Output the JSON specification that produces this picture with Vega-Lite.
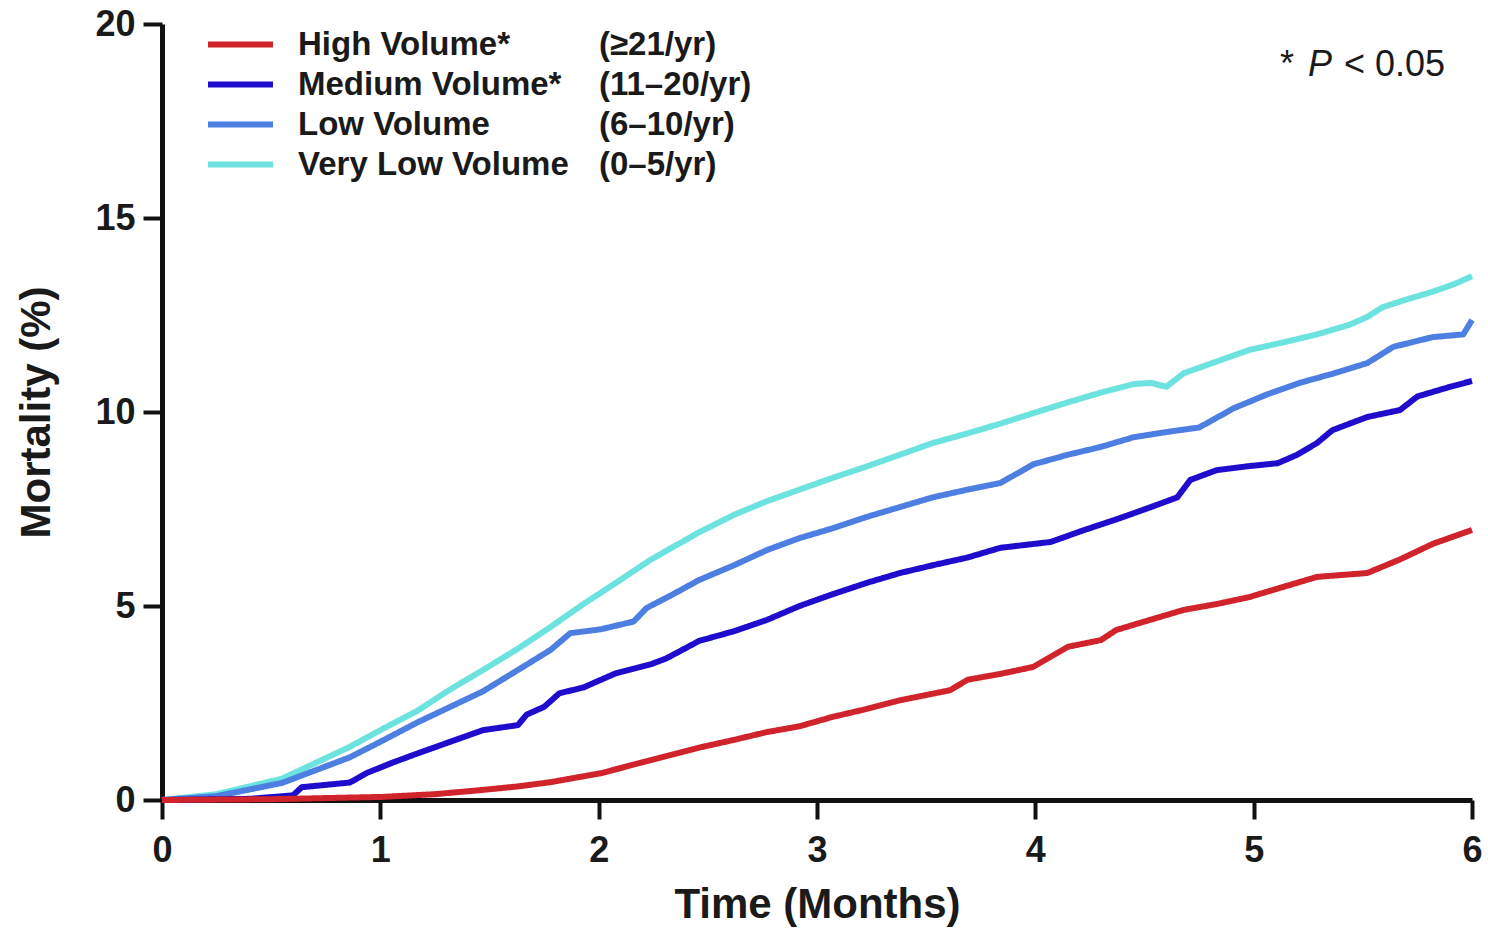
{
  "$schema": "https://vega.github.io/schema/vega-lite/v6.json",
  "autosize": "none",
  "width": 1310,
  "height": 776,
  "padding": {"left": 162, "top": 24, "right": 16, "bottom": 129},
  "background": "white",
  "config": {
    "view": {"stroke": null},
    "font": "Liberation Sans",
    "axis": {
      "grid": false,
      "domainColor": "#111",
      "domainWidth": 5,
      "tickColor": "#111",
      "tickWidth": 4,
      "tickSize": 19,
      "labelFont": "Liberation Sans",
      "labelFontWeight": "bold",
      "labelFontSize": 36,
      "labelColor": "#1a1a1a",
      "titleFont": "Liberation Sans",
      "titleFontWeight": "bold",
      "titleFontSize": 42,
      "titleColor": "#1a1a1a"
    }
  },
  "datasets": {
    "groups": [
      {"g": "High Volume*", "r": "(≥21/yr)"},
      {"g": "Medium Volume*", "r": "(11–20/yr)"},
      {"g": "Low Volume", "r": "(6–10/yr)"},
      {"g": "Very Low Volume", "r": "(0–5/yr)"}
    ],
    "curves": [
      {"g": "Very Low Volume", "t": 0, "m": 0},
      {"g": "Very Low Volume", "t": 0.25, "m": 0.15},
      {"g": "Very Low Volume", "t": 0.55, "m": 0.55},
      {"g": "Very Low Volume", "t": 0.86, "m": 1.37},
      {"g": "Very Low Volume", "t": 1.0, "m": 1.8},
      {"g": "Very Low Volume", "t": 1.17, "m": 2.3},
      {"g": "Very Low Volume", "t": 1.32, "m": 2.85},
      {"g": "Very Low Volume", "t": 1.47, "m": 3.35},
      {"g": "Very Low Volume", "t": 1.63, "m": 3.9},
      {"g": "Very Low Volume", "t": 1.78, "m": 4.46},
      {"g": "Very Low Volume", "t": 1.93, "m": 5.05},
      {"g": "Very Low Volume", "t": 2.08, "m": 5.6},
      {"g": "Very Low Volume", "t": 2.24, "m": 6.2},
      {"g": "Very Low Volume", "t": 2.46, "m": 6.9},
      {"g": "Very Low Volume", "t": 2.62, "m": 7.35},
      {"g": "Very Low Volume", "t": 2.77, "m": 7.7},
      {"g": "Very Low Volume", "t": 2.92, "m": 8.0},
      {"g": "Very Low Volume", "t": 3.07, "m": 8.3},
      {"g": "Very Low Volume", "t": 3.23, "m": 8.6},
      {"g": "Very Low Volume", "t": 3.38, "m": 8.9},
      {"g": "Very Low Volume", "t": 3.53, "m": 9.2},
      {"g": "Very Low Volume", "t": 3.69, "m": 9.45},
      {"g": "Very Low Volume", "t": 3.84, "m": 9.7},
      {"g": "Very Low Volume", "t": 3.99, "m": 9.97},
      {"g": "Very Low Volume", "t": 4.15, "m": 10.25},
      {"g": "Very Low Volume", "t": 4.3, "m": 10.5},
      {"g": "Very Low Volume", "t": 4.45, "m": 10.72},
      {"g": "Very Low Volume", "t": 4.53, "m": 10.75},
      {"g": "Very Low Volume", "t": 4.6, "m": 10.65},
      {"g": "Very Low Volume", "t": 4.68, "m": 11.0},
      {"g": "Very Low Volume", "t": 4.83, "m": 11.3},
      {"g": "Very Low Volume", "t": 4.98, "m": 11.6},
      {"g": "Very Low Volume", "t": 5.14, "m": 11.8},
      {"g": "Very Low Volume", "t": 5.29, "m": 12.0},
      {"g": "Very Low Volume", "t": 5.44, "m": 12.25},
      {"g": "Very Low Volume", "t": 5.52, "m": 12.45},
      {"g": "Very Low Volume", "t": 5.59, "m": 12.7},
      {"g": "Very Low Volume", "t": 5.7, "m": 12.9},
      {"g": "Very Low Volume", "t": 5.82, "m": 13.1},
      {"g": "Very Low Volume", "t": 5.92, "m": 13.3},
      {"g": "Very Low Volume", "t": 6.0, "m": 13.5},

      {"g": "Low Volume", "t": 0, "m": 0},
      {"g": "Low Volume", "t": 0.25, "m": 0.1},
      {"g": "Low Volume", "t": 0.55, "m": 0.44},
      {"g": "Low Volume", "t": 0.86, "m": 1.1},
      {"g": "Low Volume", "t": 1.0, "m": 1.5},
      {"g": "Low Volume", "t": 1.17, "m": 2.0},
      {"g": "Low Volume", "t": 1.32, "m": 2.4},
      {"g": "Low Volume", "t": 1.47, "m": 2.8},
      {"g": "Low Volume", "t": 1.63, "m": 3.35},
      {"g": "Low Volume", "t": 1.78, "m": 3.87},
      {"g": "Low Volume", "t": 1.87, "m": 4.3},
      {"g": "Low Volume", "t": 2.01, "m": 4.4},
      {"g": "Low Volume", "t": 2.16, "m": 4.6},
      {"g": "Low Volume", "t": 2.22, "m": 4.95},
      {"g": "Low Volume", "t": 2.34, "m": 5.3},
      {"g": "Low Volume", "t": 2.46, "m": 5.67},
      {"g": "Low Volume", "t": 2.62, "m": 6.05},
      {"g": "Low Volume", "t": 2.77, "m": 6.44},
      {"g": "Low Volume", "t": 2.92, "m": 6.75},
      {"g": "Low Volume", "t": 3.07, "m": 7.0},
      {"g": "Low Volume", "t": 3.23, "m": 7.3},
      {"g": "Low Volume", "t": 3.38, "m": 7.55},
      {"g": "Low Volume", "t": 3.53, "m": 7.8},
      {"g": "Low Volume", "t": 3.69, "m": 8.0},
      {"g": "Low Volume", "t": 3.84, "m": 8.17},
      {"g": "Low Volume", "t": 3.99, "m": 8.65},
      {"g": "Low Volume", "t": 4.15, "m": 8.9},
      {"g": "Low Volume", "t": 4.3, "m": 9.1},
      {"g": "Low Volume", "t": 4.45, "m": 9.35},
      {"g": "Low Volume", "t": 4.62, "m": 9.5},
      {"g": "Low Volume", "t": 4.75, "m": 9.6},
      {"g": "Low Volume", "t": 4.91, "m": 10.1},
      {"g": "Low Volume", "t": 5.06, "m": 10.45},
      {"g": "Low Volume", "t": 5.21, "m": 10.75},
      {"g": "Low Volume", "t": 5.37, "m": 11.0},
      {"g": "Low Volume", "t": 5.52, "m": 11.26},
      {"g": "Low Volume", "t": 5.64, "m": 11.68},
      {"g": "Low Volume", "t": 5.82, "m": 11.93},
      {"g": "Low Volume", "t": 5.96, "m": 12.0},
      {"g": "Low Volume", "t": 6.0, "m": 12.37},

      {"g": "Medium Volume*", "t": 0, "m": 0},
      {"g": "Medium Volume*", "t": 0.4, "m": 0.03},
      {"g": "Medium Volume*", "t": 0.6, "m": 0.12},
      {"g": "Medium Volume*", "t": 0.64, "m": 0.33},
      {"g": "Medium Volume*", "t": 0.86, "m": 0.45},
      {"g": "Medium Volume*", "t": 0.94, "m": 0.7},
      {"g": "Medium Volume*", "t": 1.05, "m": 0.95},
      {"g": "Medium Volume*", "t": 1.17, "m": 1.2},
      {"g": "Medium Volume*", "t": 1.32, "m": 1.5},
      {"g": "Medium Volume*", "t": 1.47, "m": 1.8},
      {"g": "Medium Volume*", "t": 1.63, "m": 1.93},
      {"g": "Medium Volume*", "t": 1.67, "m": 2.2},
      {"g": "Medium Volume*", "t": 1.75, "m": 2.4},
      {"g": "Medium Volume*", "t": 1.82, "m": 2.75},
      {"g": "Medium Volume*", "t": 1.93, "m": 2.9},
      {"g": "Medium Volume*", "t": 2.08, "m": 3.27},
      {"g": "Medium Volume*", "t": 2.24, "m": 3.5},
      {"g": "Medium Volume*", "t": 2.31, "m": 3.65},
      {"g": "Medium Volume*", "t": 2.46, "m": 4.1},
      {"g": "Medium Volume*", "t": 2.62, "m": 4.35},
      {"g": "Medium Volume*", "t": 2.77, "m": 4.64},
      {"g": "Medium Volume*", "t": 2.92, "m": 5.0},
      {"g": "Medium Volume*", "t": 3.07, "m": 5.3},
      {"g": "Medium Volume*", "t": 3.23, "m": 5.6},
      {"g": "Medium Volume*", "t": 3.38, "m": 5.85},
      {"g": "Medium Volume*", "t": 3.53, "m": 6.05},
      {"g": "Medium Volume*", "t": 3.69, "m": 6.25},
      {"g": "Medium Volume*", "t": 3.84, "m": 6.5},
      {"g": "Medium Volume*", "t": 4.07, "m": 6.65},
      {"g": "Medium Volume*", "t": 4.22, "m": 6.95},
      {"g": "Medium Volume*", "t": 4.38, "m": 7.25},
      {"g": "Medium Volume*", "t": 4.53, "m": 7.55},
      {"g": "Medium Volume*", "t": 4.65, "m": 7.8},
      {"g": "Medium Volume*", "t": 4.71, "m": 8.25},
      {"g": "Medium Volume*", "t": 4.83, "m": 8.5},
      {"g": "Medium Volume*", "t": 4.97, "m": 8.6},
      {"g": "Medium Volume*", "t": 5.11, "m": 8.68},
      {"g": "Medium Volume*", "t": 5.2, "m": 8.9},
      {"g": "Medium Volume*", "t": 5.29, "m": 9.2},
      {"g": "Medium Volume*", "t": 5.36, "m": 9.53},
      {"g": "Medium Volume*", "t": 5.52, "m": 9.87},
      {"g": "Medium Volume*", "t": 5.67, "m": 10.05},
      {"g": "Medium Volume*", "t": 5.75, "m": 10.4},
      {"g": "Medium Volume*", "t": 5.9, "m": 10.65},
      {"g": "Medium Volume*", "t": 6.0, "m": 10.8},

      {"g": "High Volume*", "t": 0, "m": 0},
      {"g": "High Volume*", "t": 0.5, "m": 0.02},
      {"g": "High Volume*", "t": 1.01, "m": 0.08},
      {"g": "High Volume*", "t": 1.25, "m": 0.15},
      {"g": "High Volume*", "t": 1.47, "m": 0.26},
      {"g": "High Volume*", "t": 1.63, "m": 0.35},
      {"g": "High Volume*", "t": 1.78, "m": 0.46},
      {"g": "High Volume*", "t": 2.01, "m": 0.69},
      {"g": "High Volume*", "t": 2.24, "m": 1.03},
      {"g": "High Volume*", "t": 2.46, "m": 1.35},
      {"g": "High Volume*", "t": 2.62, "m": 1.55},
      {"g": "High Volume*", "t": 2.77, "m": 1.75},
      {"g": "High Volume*", "t": 2.92, "m": 1.9},
      {"g": "High Volume*", "t": 3.07, "m": 2.14},
      {"g": "High Volume*", "t": 3.23, "m": 2.35},
      {"g": "High Volume*", "t": 3.38, "m": 2.57},
      {"g": "High Volume*", "t": 3.61, "m": 2.83},
      {"g": "High Volume*", "t": 3.69, "m": 3.1},
      {"g": "High Volume*", "t": 3.84, "m": 3.25},
      {"g": "High Volume*", "t": 3.99, "m": 3.43},
      {"g": "High Volume*", "t": 4.15, "m": 3.95},
      {"g": "High Volume*", "t": 4.3, "m": 4.12},
      {"g": "High Volume*", "t": 4.37, "m": 4.38},
      {"g": "High Volume*", "t": 4.53, "m": 4.65},
      {"g": "High Volume*", "t": 4.68, "m": 4.9},
      {"g": "High Volume*", "t": 4.83, "m": 5.05},
      {"g": "High Volume*", "t": 4.98, "m": 5.23},
      {"g": "High Volume*", "t": 5.14, "m": 5.5},
      {"g": "High Volume*", "t": 5.29, "m": 5.75},
      {"g": "High Volume*", "t": 5.52, "m": 5.85},
      {"g": "High Volume*", "t": 5.67, "m": 6.2},
      {"g": "High Volume*", "t": 5.82, "m": 6.6},
      {"g": "High Volume*", "t": 6.0, "m": 6.96}
    ]
  },
  "layer": [
    {
      "data": {"name": "curves"},
      "transform": [
        {"lookup": "g", "from": {"data": {"name": "groups"}, "key": "g", "fields": ["r"]}}
      ],
      "mark": {"type": "line", "strokeWidth": 6, "strokeCap": "butt", "strokeJoin": "round"},
      "encoding": {
        "x": {
          "field": "t", "type": "quantitative",
          "scale": {"domain": [0, 6], "nice": false},
          "axis": {"values": [0, 1, 2, 3, 4, 5, 6], "format": "d", "title": "Time (Months)", "labelPadding": 14, "titlePadding": 16, "labelFlush": false}
        },
        "y": {
          "field": "m", "type": "quantitative",
          "scale": {"domain": [0, 20], "nice": false},
          "axis": {"values": [0, 5, 10, 15, 20], "format": "d", "title": "Mortality (%)", "labelPadding": 8, "titlePadding": 36}
        },
        "color": {
          "field": "g", "type": "nominal",
          "scale": {
            "domain": ["High Volume*", "Medium Volume*", "Low Volume", "Very Low Volume"],
            "range": ["#d0232b", "#1f0ccc", "#4d7fe2", "#6de3df"]
          },
          "legend": {
            "title": null,
            "orient": "none",
            "legendX": 62,
            "legendY": 4,
            "padding": 0,
            "symbolType": "M-2.5,0H2.5",
            "symbolSize": 676,
            "symbolStrokeWidth": 6,
            "labelFont": "Liberation Sans",
            "labelFontWeight": "bold",
            "labelFontSize": 33,
            "labelColor": "#1a1a1a",
            "labelOffset": 41,
            "labelLimit": 500,
            "rowPadding": 6
          }
        },
        "strokeDash": {
          "field": "r", "type": "nominal",
          "scale": {
            "domain": ["(≥21/yr)", "(11–20/yr)", "(6–10/yr)", "(0–5/yr)"],
            "range": [[1, 0], [1, 0], [1, 0], [1, 0]]
          },
          "legend": {
            "title": null,
            "orient": "none",
            "legendX": 404,
            "legendY": 4,
            "padding": 0,
            "symbolSize": 16,
            "symbolOpacity": 0,
            "symbolStrokeWidth": 0,
            "labelFont": "Liberation Sans",
            "labelFontWeight": "bold",
            "labelFontSize": 33,
            "labelColor": "#1a1a1a",
            "labelOffset": 0,
            "labelLimit": 500,
            "rowPadding": 6
          }
        }
      }
    },
    {
      "data": {"values": [{}]},
      "mark": {"type": "text", "align": "right", "baseline": "alphabetic", "fontSize": 36, "font": "Liberation Sans", "color": "#1a1a1a", "dx": -27},
      "encoding": {"x": {"datum": 6, "type": "quantitative"}, "y": {"datum": 18.66, "type": "quantitative"}, "text": {"value": "< 0.05"}}
    },
    {
      "data": {"values": [{}]},
      "mark": {"type": "text", "align": "right", "baseline": "alphabetic", "fontSize": 36, "font": "Liberation Sans", "fontStyle": "italic", "color": "#1a1a1a", "dx": -140},
      "encoding": {"x": {"datum": 6, "type": "quantitative"}, "y": {"datum": 18.66, "type": "quantitative"}, "text": {"value": "P"}}
    },
    {
      "data": {"values": [{}]},
      "mark": {"type": "text", "align": "right", "baseline": "alphabetic", "fontSize": 36, "font": "Liberation Sans", "color": "#1a1a1a", "dx": -178},
      "encoding": {"x": {"datum": 6, "type": "quantitative"}, "y": {"datum": 18.66, "type": "quantitative"}, "text": {"value": "*"}}
    }
  ]
}
